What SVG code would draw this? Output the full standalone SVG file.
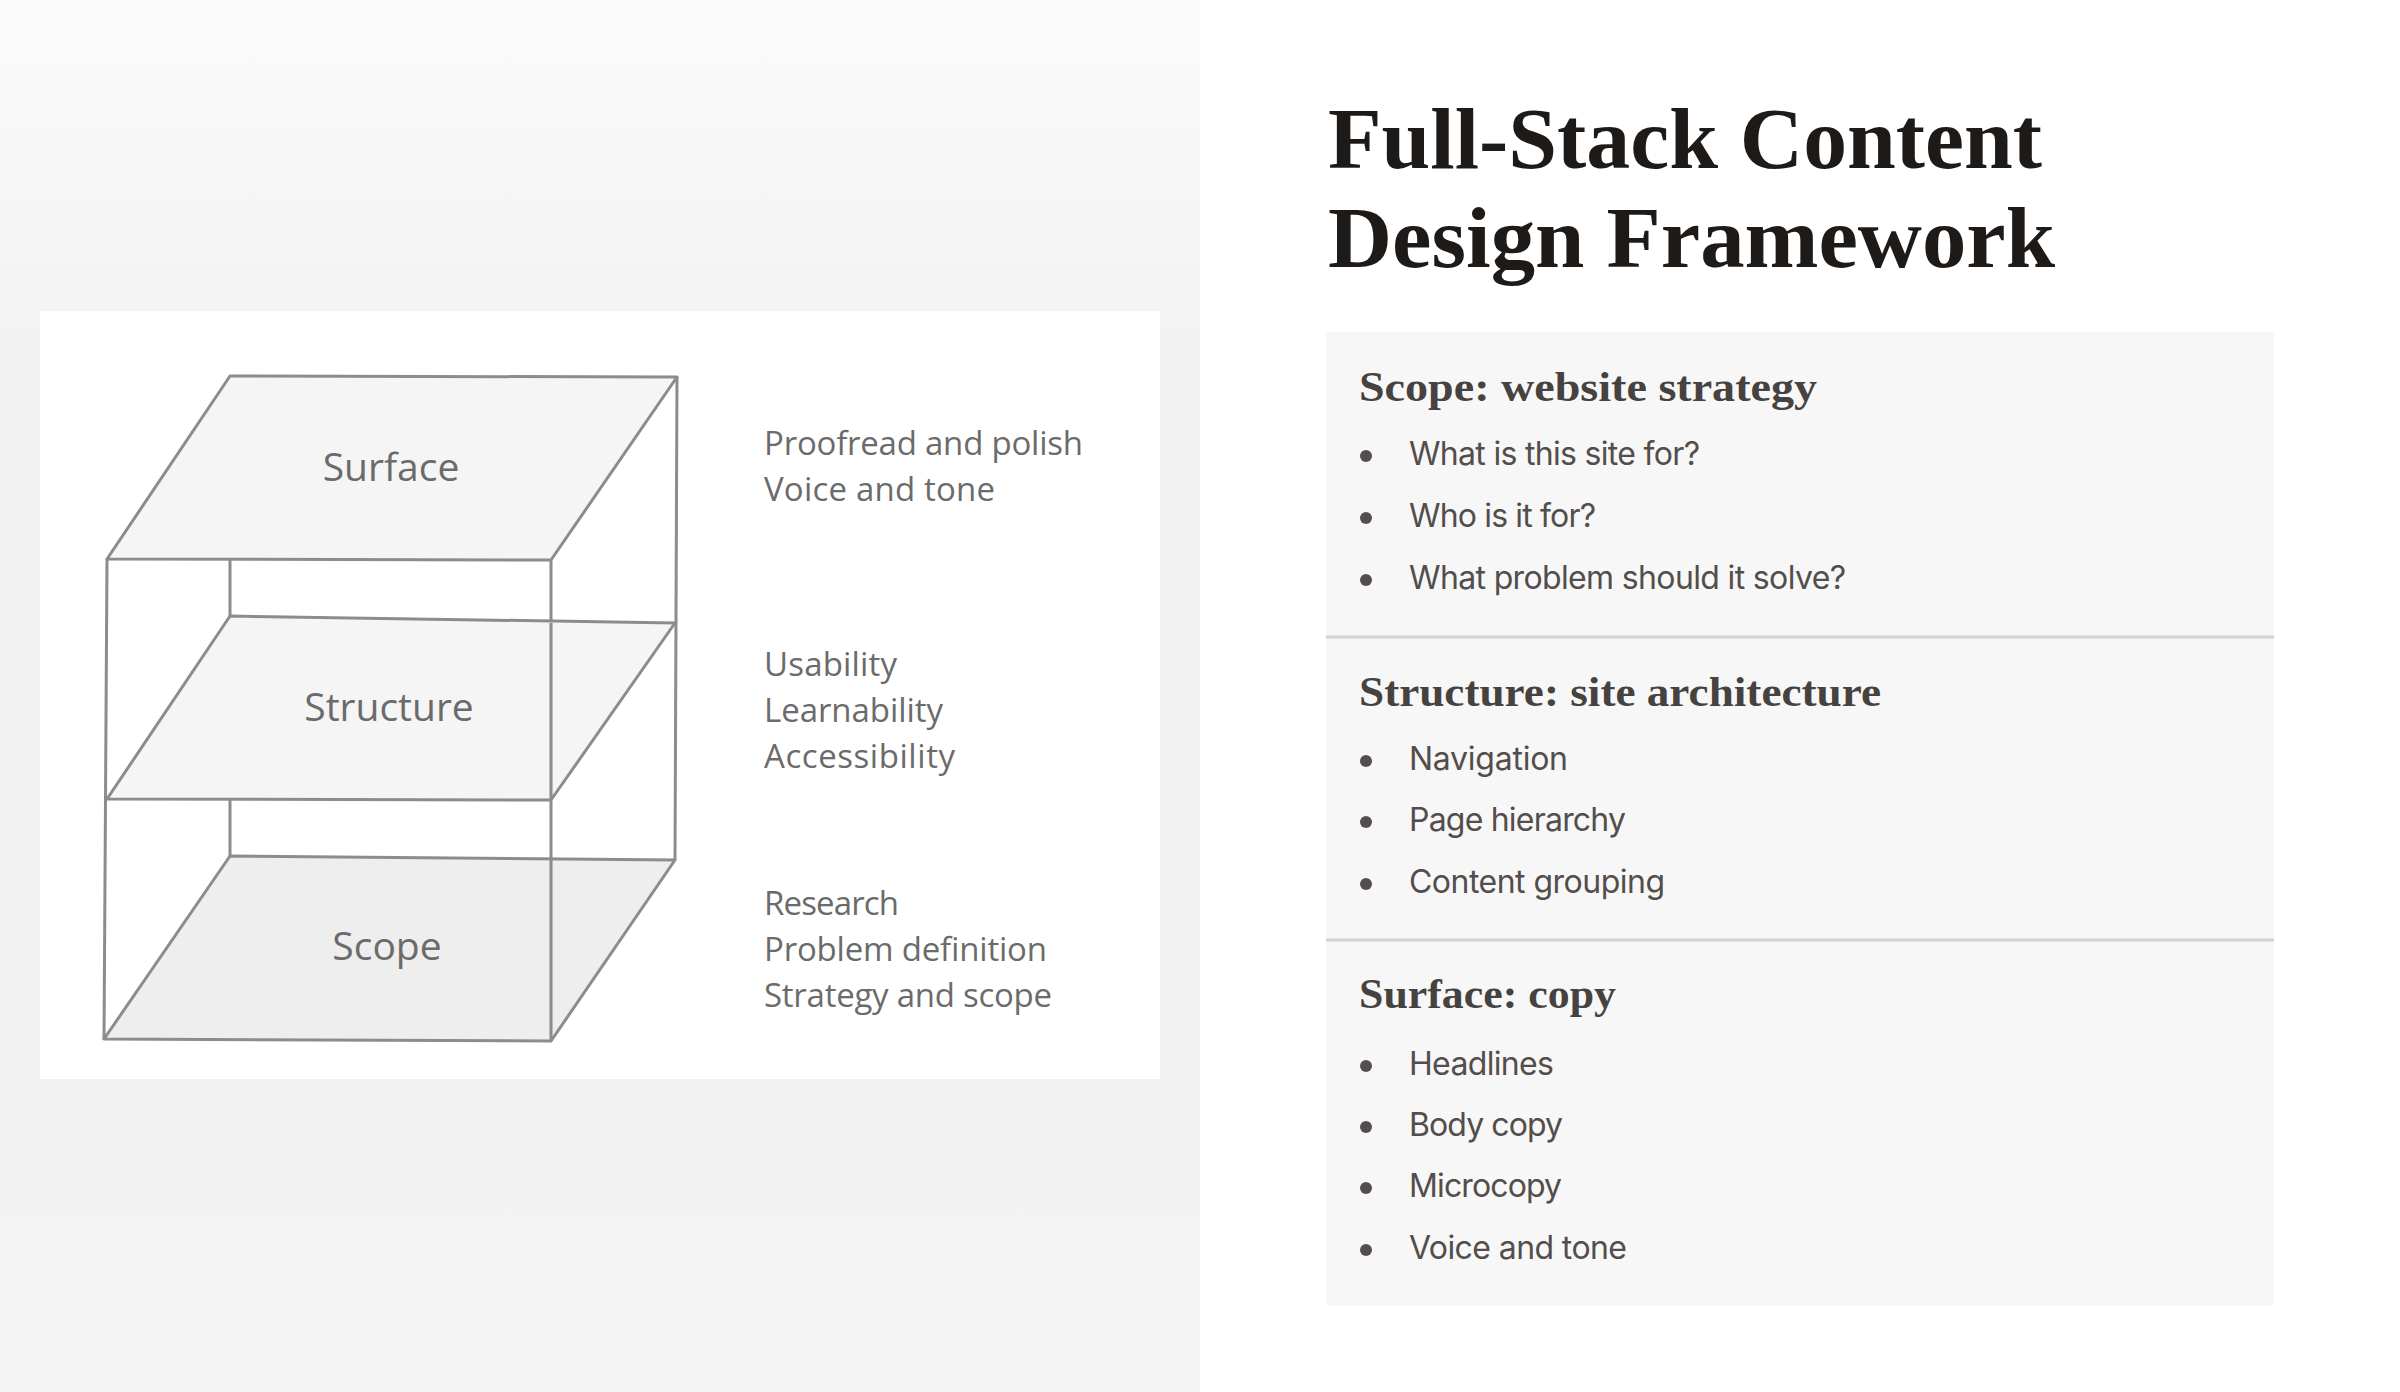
<svg xmlns="http://www.w3.org/2000/svg" width="2400" height="1392" viewBox="0 0 2400 1392">
  <defs>
    <linearGradient id="leftbg" x1="0" y1="0" x2="0" y2="1">
      <stop offset="0" stop-color="#fbfbfb"/>
      <stop offset="0.25" stop-color="#f2f2f2"/>
      <stop offset="0.75" stop-color="#f1f1f1"/>
      <stop offset="1" stop-color="#f4f4f4"/>
    </linearGradient>
    <style>
      .edge { fill: none; stroke: #8c8c8c; stroke-width: 3; stroke-linejoin: round; }
      .plane { stroke: #8c8c8c; stroke-width: 3; stroke-linejoin: round; }
      .layer { font-family: "Open Sans", "Noto Sans", sans-serif; font-size: 39px; fill: #6b6b6b; text-anchor: middle; }
      .note { font-family: "Open Sans", "Noto Sans", sans-serif; font-size: 33px; fill: #6b6b6b; }
      .title { font-family: "Liberation Serif", "DejaVu Serif", serif; font-weight: bold; font-size: 86px; fill: #1e1a18; }
      .head { font-family: "Liberation Serif", "DejaVu Serif", serif; font-weight: bold; font-size: 43px; fill: #46423f; }
      .item { font-family: "Inter", "Roboto", sans-serif; font-size: 32px; fill: #534e4b; }
      .dot { fill: #534e4b; }
      .divider { stroke: #d2d2d2; stroke-width: 3; }
    </style>
  </defs>

  <rect x="0" y="0" width="2400" height="1392" fill="#ffffff"/>
  <rect x="0" y="0" width="1200" height="1392" fill="url(#leftbg)"/>

  <g id="cube-panel">
    <rect x="40" y="311" width="1120" height="768" fill="#ffffff"/>
  </g>

  <g id="connectors">
    <line class="edge" x1="107" y1="559" x2="104" y2="1040"/>
    <line class="edge" x1="551" y1="560" x2="551" y2="1041"/>
    <line class="edge" x1="677" y1="377" x2="675" y2="860"/>
    <line class="edge" x1="230" y1="560" x2="230" y2="616"/>
    <line class="edge" x1="230" y1="800" x2="230" y2="856"/>
  </g>

  <g id="scope-layer">
    <polygon class="plane" points="230,856 675,860 551,1041 104,1039" fill="#ebebeb" fill-opacity="0.85"/>
    <line class="edge" x1="551" y1="860" x2="551" y2="1041"/>
    <text class="layer" x="387" y="960">Scope</text>
  </g>

  <g id="structure-layer">
    <polygon class="plane" points="230,616 675,623 551,800 107,799" fill="#f3f3f3" fill-opacity="0.85"/>
    <line class="edge" x1="551" y1="623" x2="551" y2="800"/>
    <text class="layer" x="389" y="721">Structure</text>
  </g>

  <g id="surface-layer">
    <polygon class="plane" points="230,376 677,377 551,560 107,559" fill="#f5f5f5"/>
    <text class="layer" x="391" y="481">Surface</text>
  </g>

  <g id="surface-notes">
    <text class="note" x="764" y="455" textLength="319">Proofread and polish</text>
    <text class="note" x="764" y="501" textLength="231">Voice and tone</text>
  </g>
  <g id="structure-notes">
    <text class="note" x="764" y="676" textLength="133">Usability</text>
    <text class="note" x="764" y="722" textLength="179">Learnability</text>
    <text class="note" x="764" y="768" textLength="191">Accessibility</text>
  </g>
  <g id="scope-notes">
    <text class="note" x="764" y="915" textLength="135">Research</text>
    <text class="note" x="764" y="961" textLength="283">Problem definition</text>
    <text class="note" x="764" y="1007" textLength="288">Strategy and scope</text>
  </g>

  <g id="title">
    <text class="title" x="1328" y="168" textLength="714" lengthAdjust="spacingAndGlyphs">Full-Stack Content</text>
    <text class="title" x="1328" y="267" textLength="727" lengthAdjust="spacingAndGlyphs">Design Framework</text>
  </g>

  <g id="card">
    <rect x="1326" y="332" width="948" height="974" rx="4" fill="#f7f7f7"/>
    <line class="divider" x1="1326" y1="637" x2="2274" y2="637"/>
    <line class="divider" x1="1326" y1="940" x2="2274" y2="940"/>
  </g>

  <g id="scope-section">
    <text class="head" x="1359" y="401" textLength="458" lengthAdjust="spacingAndGlyphs">Scope: website strategy</text>
    <circle class="dot" cx="1366" cy="456" r="6"/>
    <text class="item" x="1409" y="465" textLength="291">What is this site for?</text>
    <circle class="dot" cx="1366" cy="518" r="6"/>
    <text class="item" x="1409" y="527" textLength="187">Who is it for?</text>
    <circle class="dot" cx="1366" cy="580" r="6"/>
    <text class="item" x="1409" y="589" textLength="437">What problem should it solve?</text>
  </g>

  <g id="structure-section">
    <text class="head" x="1359" y="706" textLength="522" lengthAdjust="spacingAndGlyphs">Structure: site architecture</text>
    <circle class="dot" cx="1366" cy="761" r="6"/>
    <text class="item" x="1409" y="770" textLength="159">Navigation</text>
    <circle class="dot" cx="1366" cy="822" r="6"/>
    <text class="item" x="1409" y="831" textLength="217">Page hierarchy</text>
    <circle class="dot" cx="1366" cy="884" r="6"/>
    <text class="item" x="1409" y="893" textLength="256">Content grouping</text>
  </g>

  <g id="surface-section">
    <text class="head" x="1359" y="1008" textLength="257" lengthAdjust="spacingAndGlyphs">Surface: copy</text>
    <circle class="dot" cx="1366" cy="1066" r="6"/>
    <text class="item" x="1409" y="1075" textLength="145">Headlines</text>
    <circle class="dot" cx="1366" cy="1127" r="6"/>
    <text class="item" x="1409" y="1136" textLength="154">Body copy</text>
    <circle class="dot" cx="1366" cy="1188" r="6"/>
    <text class="item" x="1409" y="1197" textLength="153">Microcopy</text>
    <circle class="dot" cx="1366" cy="1250" r="6"/>
    <text class="item" x="1409" y="1259" textLength="218">Voice and tone</text>
  </g>
</svg>
